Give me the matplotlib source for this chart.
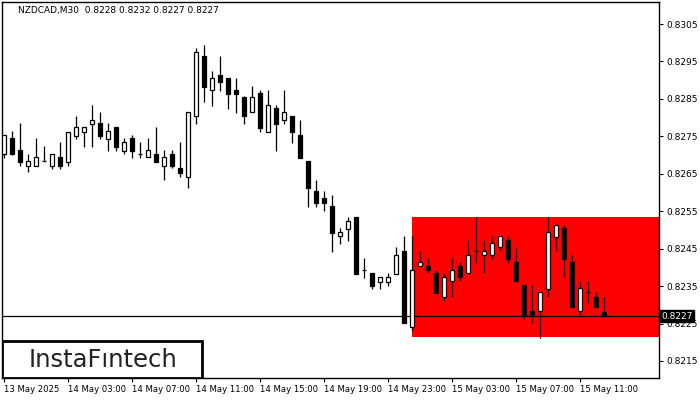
import matplotlib
matplotlib.use("Agg")
import matplotlib.pyplot as plt
from matplotlib.patches import Rectangle

# NZDCAD M30 candles, 13 May 23:00 .. 15 May 12:30
opens = [0.82702, 0.82745, 0.82713, 0.82672, 0.82672, 0.82684, 0.82672, 0.82695, 0.82682, 0.82752,
         0.82762, 0.82784, 0.82786, 0.82743, 0.82775, 0.82711, 0.82745, 0.82702, 0.82695, 0.82702,
         0.82672, 0.82702, 0.82665, 0.82642, 0.82804, 0.82965, 0.82873, 0.82914, 0.82906, 0.82874,
         0.82855, 0.82814, 0.82866, 0.82762, 0.82826, 0.82793, 0.82804, 0.82754, 0.82684, 0.82604,
         0.82585, 0.82564, 0.82483, 0.82503, 0.82535, 0.82392, 0.82384, 0.82362, 0.82362, 0.82383,
         0.82443, 0.82242, 0.82403, 0.82404, 0.82384, 0.82322, 0.82363, 0.82404, 0.82384, 0.82443,
         0.82432, 0.82432, 0.82454, 0.82473, 0.82414, 0.82352, 0.82283, 0.82283, 0.82343, 0.82482,
         0.82505, 0.82414, 0.82283, 0.82333, 0.82322, 0.82280]
highs = [0.82754, 0.82764, 0.82786, 0.82702, 0.82745, 0.82723, 0.82702, 0.82736, 0.82762, 0.82805,
         0.82775, 0.82834, 0.82816, 0.82786, 0.82775, 0.82745, 0.82754, 0.82736, 0.82745, 0.82775,
         0.82713, 0.82713, 0.82734, 0.82814, 0.82985, 0.82994, 0.82924, 0.82965, 0.82906, 0.82906,
         0.82858, 0.82884, 0.82874, 0.82874, 0.82834, 0.82874, 0.82804, 0.82793, 0.82684, 0.82633,
         0.82604, 0.82593, 0.82505, 0.82535, 0.82535, 0.82425, 0.82384, 0.82373, 0.82384, 0.82454,
         0.82484, 0.82484, 0.82444, 0.82425, 0.82392, 0.82385, 0.82425, 0.82414, 0.82473, 0.82535,
         0.82473, 0.82484, 0.82484, 0.82484, 0.82454, 0.82352, 0.82352, 0.82333, 0.82535, 0.82512,
         0.82512, 0.82432, 0.82363, 0.82363, 0.82333, 0.82320]
lows = [0.82693, 0.82700, 0.82672, 0.82654, 0.82672, 0.82684, 0.82663, 0.82663, 0.82672, 0.82743,
        0.82721, 0.82721, 0.82743, 0.82711, 0.82711, 0.82702, 0.82693, 0.82693, 0.82695, 0.82682,
        0.82633, 0.82665, 0.82642, 0.82613, 0.82784, 0.82842, 0.82832, 0.82871, 0.82824, 0.82813,
        0.82784, 0.82814, 0.82762, 0.82762, 0.82712, 0.82784, 0.82733, 0.82693, 0.82562, 0.82562,
        0.82551, 0.82442, 0.82463, 0.82471, 0.82383, 0.82372, 0.82343, 0.82343, 0.82351, 0.82383,
        0.82252, 0.82231, 0.82403, 0.82384, 0.82332, 0.82311, 0.82322, 0.82363, 0.82384, 0.82412,
        0.82384, 0.82423, 0.82443, 0.82412, 0.82363, 0.82263, 0.82252, 0.82212, 0.82322, 0.82443,
        0.82373, 0.82293, 0.82272, 0.82304, 0.82293, 0.82270]
closes = [0.82754, 0.82702, 0.82682, 0.82684, 0.82695, 0.82684, 0.82702, 0.82672, 0.82762, 0.82775,
          0.82775, 0.82793, 0.82752, 0.82764, 0.82721, 0.82734, 0.82711, 0.82702, 0.82713, 0.82682,
          0.82695, 0.82672, 0.82653, 0.82814, 0.82974, 0.82883, 0.82905, 0.82894, 0.82864, 0.82864,
          0.82804, 0.82855, 0.82773, 0.82834, 0.82784, 0.82814, 0.82762, 0.82693, 0.82613, 0.82573,
          0.82573, 0.82493, 0.82494, 0.82524, 0.82383, 0.82392, 0.82351, 0.82373, 0.82373, 0.82432,
          0.82252, 0.82392, 0.82414, 0.82392, 0.82332, 0.82373, 0.82393, 0.82373, 0.82432, 0.82443,
          0.82443, 0.82464, 0.82484, 0.82423, 0.82363, 0.82272, 0.82272, 0.82333, 0.82494, 0.82512,
          0.82423, 0.82293, 0.82344, 0.82333, 0.82293, 0.82270]

tick_idx = [0, 8, 16, 24, 32, 40, 48, 56, 64, 72]
tick_labels = ["13 May 2025", "14 May 03:00", "14 May 07:00", "14 May 11:00", "14 May 15:00",
               "14 May 19:00", "14 May 23:00", "15 May 03:00", "15 May 07:00", "15 May 11:00"]
price_ticks = [0.8215, 0.8225, 0.8235, 0.8245, 0.8255, 0.8265, 0.8275, 0.8285, 0.8295, 0.8305]

box_start = 51
box_low, box_high = 0.82215, 0.82535
last_price = 0.8227
title = "NZDCAD,M30  0.8228 0.8232 0.8227 0.8227"

fig = plt.figure(figsize=(7, 4), dpi=100)
ax = fig.add_axes([2 / 700, 22 / 400, 657 / 700, 376 / 400])
ax.set_xlim(-0.25, 81.875)
ax.set_ylim(0.821045, 0.831088)

# red pattern box behind the candles
ax.add_patch(Rectangle((box_start, box_low), 100, box_high - box_low,
                       facecolor="#ff0000", edgecolor="none", zorder=1))
ax.axhline(last_price, color="black", lw=0.9, zorder=2)

n = len(opens)
for i in range(n):
    o, h, l, c = opens[i], highs[i], lows[i], closes[i]
    ax.vlines(i, l, h, color="black", lw=0.9, zorder=3)
    lo, hi = min(o, c), max(o, c)
    ax.add_patch(Rectangle((i - 0.3, lo), 0.6, hi - lo,
                           facecolor="white" if c >= o else "black",
                           edgecolor="black", lw=0.9, zorder=4))

ax.yaxis.tick_right()
ax.set_yticks(price_ticks)
ax.set_yticklabels([f"{p:.4f}" for p in price_ticks])
ax.set_xticks(tick_idx)
ax.set_xticklabels(tick_labels, ha="left")
ax.tick_params(axis="y", labelsize=6.5, length=3, width=0.8, pad=2, colors="black")
ax.tick_params(axis="x", labelsize=6.1, length=3, width=0.8, pad=2, colors="black")
for s in ax.spines.values():
    s.set_linewidth(1)

# current price marker on the right axis
ax.text(1.003, last_price, "0.8227", transform=ax.get_yaxis_transform(),
        fontsize=6.5, color="white", va="center", ha="left",
        bbox=dict(boxstyle="square,pad=0.15", facecolor="black", edgecolor="black"))

ax.text(16 / 657, 1 - 9 / 376, title, transform=ax.transAxes,
        fontsize=6.5, va="center", ha="left", color="black")

# logo
ax.add_patch(Rectangle((0, 0), 200 / 657, 37 / 376, transform=ax.transAxes,
                       facecolor="white", edgecolor="black", lw=2, zorder=6))
ax.text(101 / 657, 18 / 376, "InstaF\u0131ntech", transform=ax.transAxes,
        fontsize=17.5, va="center", ha="center", color="#222222", zorder=7)

fig.savefig("out.png", dpi=100)
